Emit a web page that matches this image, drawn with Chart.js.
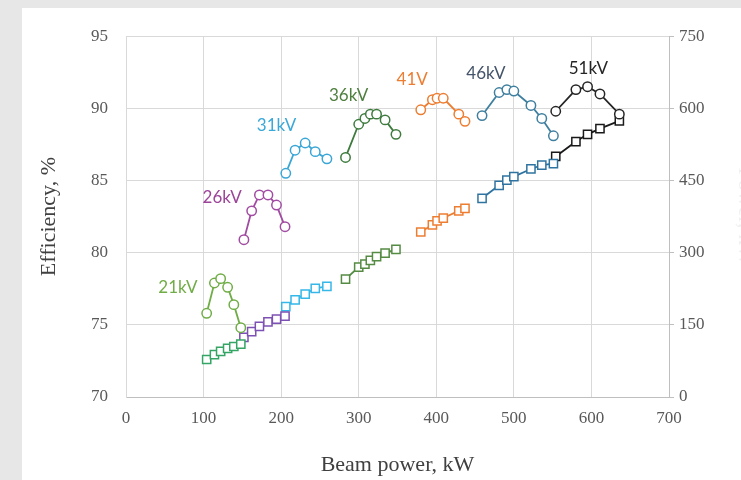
<!DOCTYPE html>
<html>
<head>
<meta charset="utf-8">
<script src="https://cdn.jsdelivr.net/npm/chart.js@4"></script>
<style>
  html, body { margin: 0; padding: 0; width: 741px; height: 480px; overflow: hidden; background: #e7e7e7; }
  #panel { position: absolute; left: 22px; top: 8px; width: 740px; height: 472px; background: #fff; }
</style>
</head>
<body>
<div id="panel"><canvas id="effChart" width="740" height="472"></canvas></div>
<script>
// beam power (kW), efficiency (%) and power on right axis, one set per voltage
const beam21 = [104, 114, 122, 131, 139, 148];
const eff21  = [75.8, 77.9, 78.2, 77.6, 76.4, 74.8];
const pwr21  = [78, 88, 95, 101, 105, 110];

const beam26 = [152, 162, 172, 183, 194, 205];
const eff26  = [80.9, 82.9, 84.0, 84.0, 83.3, 81.8];
const pwr26  = [124, 136, 147, 156, 162, 168];

const beam31 = [206, 218, 231, 244, 259];
const eff31  = [85.5, 87.1, 87.6, 87.0, 86.5];
const pwr31  = [188, 202, 214, 226, 230];

const beam36 = [283, 300, 308, 315, 323, 334, 348];
const eff36  = [86.6, 88.9, 89.3, 89.6, 89.6, 89.2, 88.2];
const pwr36  = [245, 270, 276, 284, 292, 299, 307];

const beam41 = [380, 395, 401, 409, 429, 437];
const eff41  = [89.9, 90.6, 90.7, 90.7, 89.6, 89.1];
const pwr41  = [343, 358, 366, 372, 387, 392];

const beam46 = [459, 481, 491, 500, 522, 536, 551];
const eff46  = [89.5, 91.1, 91.3, 91.2, 90.2, 89.3, 88.1];
const pwr46  = [413, 440, 451, 458, 474, 482, 485];

const beam51 = [554, 580, 595, 611, 636];
const eff51  = [89.8, 91.3, 91.5, 91.0, 89.6];
const pwr51  = [500, 531, 546, 558, 574];

const seriesNames = ['21kV', '26kV', '31kV', '36kV', '41V', '46kV', '51kV'];
// label anchor in data units (beam power, efficiency)
const labelX = [67, 124, 194, 287, 369, 464, 596];
const labelY = [77.6, 83.8, 88.8, 90.9, 92.0, 92.4, 92.75];

const xTicks = [0, 100, 200, 300, 400, 500, 600, 700];

const groups = [
  { beam: beam21, eff: eff21, pwr: pwr21, circ: '#70ad47', sq: '#35a565', text: '#70ad47' },
  { beam: beam26, eff: eff26, pwr: pwr26, circ: '#a24ba2', sq: '#7d50b3', text: '#9c4499' },
  { beam: beam31, eff: eff31, pwr: pwr31, circ: '#3aa6d6', sq: '#35b7e8', text: '#3aa8d8' },
  { beam: beam36, eff: eff36, pwr: pwr36, circ: '#3e7b3e', sq: '#558b43', text: '#4f7f3f' },
  { beam: beam41, eff: eff41, pwr: pwr41, circ: '#ed7d31', sq: '#ed7d31', text: '#ed7d31' },
  { beam: beam46, eff: eff46, pwr: pwr46, circ: '#3f7f9f', sq: '#2f74a0', text: '#44546a' },
  { beam: beam51, eff: eff51, pwr: pwr51, circ: '#262626', sq: '#1a1a1a', text: '#262626' }
];

const datasets = [];
groups.forEach((g, i) => {
  datasets.push({
    label: seriesNames[i] + ' efficiency',
    yAxisID: 'y',
    data: g.beam.map((b, k) => ({ x: b, y: g.eff[k] })),
    borderColor: g.circ,
    backgroundColor: '#fff',
    borderWidth: 1.8,
    pointStyle: 'circle',
    pointRadius: 4.7,
    pointBorderWidth: 1.5,
    tension: 0
  });
  datasets.push({
    label: seriesNames[i] + ' power',
    yAxisID: 'y1',
    data: g.beam.map((b, k) => ({ x: b, y: g.pwr[k] })),
    borderColor: g.sq,
    backgroundColor: '#fff',
    borderWidth: 1.8,
    pointStyle: 'rect',
    pointRadius: 5.8,
    pointBorderWidth: 1.5,
    tension: 0
  });
});

const seriesLabels = {
  id: 'seriesLabels',
  afterDatasetsDraw(chart) {
    const { ctx, scales } = chart;
    ctx.save();
    ctx.font = '17px Lato, "Liberation Sans", sans-serif';
    ctx.textAlign = 'center';
    ctx.textBaseline = 'middle';
    seriesNames.forEach((name, i) => {
      ctx.fillStyle = groups[i].text;
      ctx.fillText(name, scales.x.getPixelForValue(labelX[i]), scales.y.getPixelForValue(labelY[i]));
    });
    ctx.restore();
  }
};

const serif = '"Liberation Serif", "Times New Roman", serif';

new Chart(document.getElementById('effChart'), {
  type: 'line',
  data: { datasets },
  options: {
    responsive: false,
    devicePixelRatio: 1,
    animation: false,
    layout: { padding: { top: 20, left: 0, right: 0, bottom: 0 } },
    plugins: { legend: { display: false }, tooltip: { enabled: false } },
    scales: {
      x: {
        type: 'linear',
        min: 0,
        max: 700,
        afterBuildTicks: s => { s.ticks = xTicks.map(v => ({ value: v })); },
        afterFit: s => { s.height = 83; },
        grid: { color: '#d9d9d9', drawTicks: false },
        border: { color: '#bfbfbf' },
        ticks: { color: '#595959', font: { family: serif, size: 17 }, padding: 11 },
        title: {
          display: true,
          text: 'Beam power, kW',
          color: '#404040',
          font: { family: serif, size: 22 },
          padding: { top: 0, bottom: 2 }
        }
      },
      y: {
        position: 'left',
        min: 70,
        max: 95,
        ticks: { stepSize: 5, color: '#595959', font: { family: serif, size: 17 }, padding: 18 },
        afterFit: s => { s.width = 104; },
        grid: { color: '#d9d9d9', drawTicks: false },
        border: { color: '#d9d9d9' },
        title: {
          display: true,
          text: 'Efficiency, %',
          color: '#404040',
          font: { family: serif, size: 22 },
          padding: { top: 14, bottom: 0 }
        }
      },
      y1: {
        position: 'right',
        min: 0,
        max: 750,
        ticks: { stepSize: 150, color: '#595959', font: { family: serif, size: 17 }, padding: 5 },
        afterFit: s => { s.width = 93; },
        grid: { drawOnChartArea: false, color: '#bfbfbf', tickLength: 5 },
        border: { color: '#bfbfbf' },
        title: {
          display: true,
          text: 'Power, kW',
          color: '#f1f1f1',
          font: { family: serif, size: 22 },
          padding: { top: 4, bottom: 0 }
        }
      }
    }
  },
  plugins: [seriesLabels]
});
</script>
</body>
</html>
